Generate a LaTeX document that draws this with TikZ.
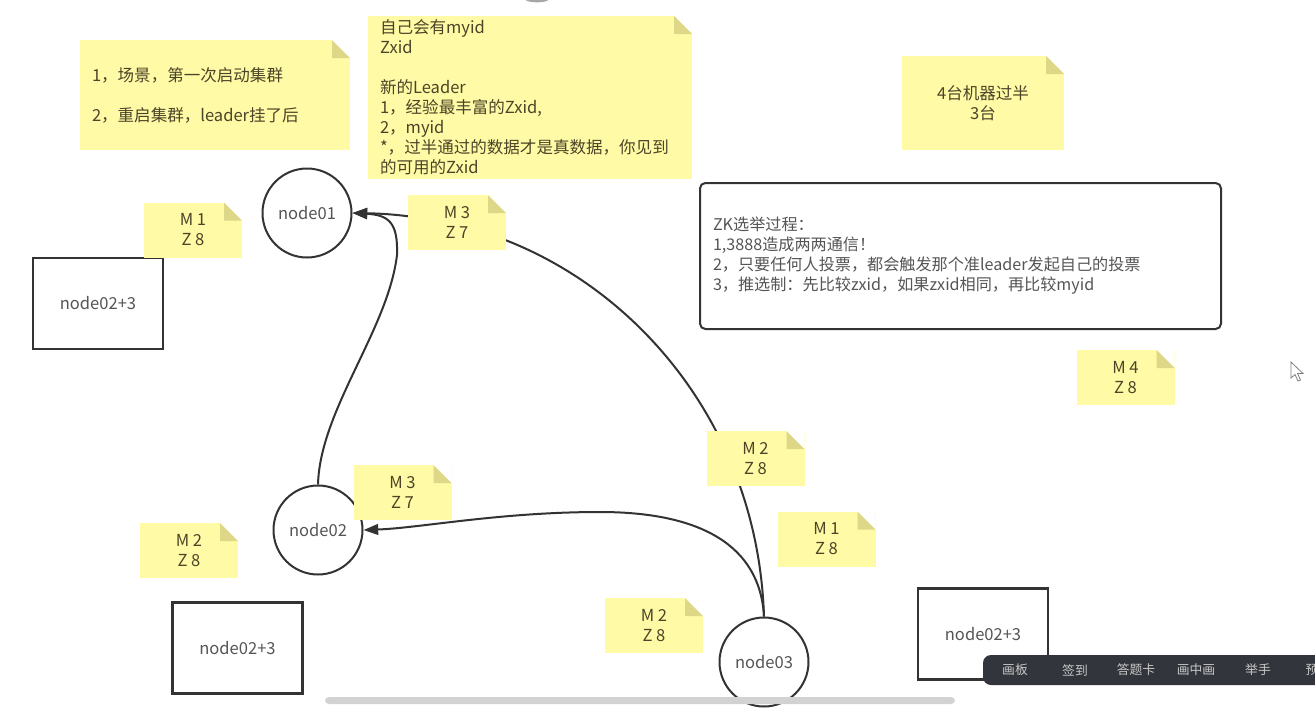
\documentclass[tikz,border=0pt]{standalone}
\usepackage{fontspec}
\setmainfont{Noto Sans CJK SC}
\usetikzlibrary{arrows.meta}

\definecolor{notey}{RGB}{255,250,165}
\definecolor{notefold}{RGB}{222,215,135}
\definecolor{notetext}{RGB}{75,68,40}
\definecolor{inkgray}{RGB}{51,51,51}
\definecolor{labelgray}{RGB}{85,85,85}
\definecolor{barbg}{RGB}{50,54,60}
\definecolor{bartext}{RGB}{200,200,200}

\begin{document}
\begin{tikzpicture}[
    x=0.75pt, y=-0.75pt,
    every node/.style={font=\fontsize{12.4}{15}\selectfont},
    note/.style={rectangle, fill=notey, text=notetext, inner sep=0pt,
        path picture={
            \fill[white] ([xshift=-13.5pt]path picture bounding box.north east)
                -- (path picture bounding box.north east)
                -- ([yshift=-13.5pt]path picture bounding box.north east) -- cycle;
            \fill[notefold] ([xshift=-13.5pt]path picture bounding box.north east)
                -- ([xshift=-13.5pt, yshift=-13.5pt]path picture bounding box.north east)
                -- ([yshift=-13.5pt]path picture bounding box.north east) -- cycle;
        }},
    mzk/.style={note, align=center, minimum width=73.5pt, minimum height=41.25pt},
    memo/.style={note, align=left, inner xsep=9pt},
    peer/.style={circle, draw=inkgray, line width=1.5pt, fill=white, minimum size=66.75pt, text=labelgray},
    host/.style={rectangle, draw=inkgray, line width=1.9pt, fill=white, minimum width=97.5pt, minimum height=68.25pt, text=labelgray},
    arrow/.style={-{Triangle[length=11pt, width=8pt]}, line width=1.5pt, draw=inkgray},
    tool/.style={text=bartext, font=\fontsize{9.6}{11}\selectfont}
]
\useasboundingbox (0,0) rectangle (1315,708);
\clip (0,0) rectangle (1315,708);
\fill[white] (0,0) rectangle (1315,708);

% Servers
\node[peer] (node01) at (307,213) {node01};
\node[peer] (node02) at (318,530) {node02};
\node[peer] (node03) at (764,662) {node03};

\node[host] (box1) at (98,303.5) {node02+3};
\node[host] (box2) at (237.5,648) {node02+3};
\node[host] (box3) at (983,634) {node02+3};

% Votes
\draw[arrow] (node03.north) .. controls (758,430) and (640,290) .. (500,238)
    .. controls (450,222) and (410,214) .. (node01.east);
\draw[arrow] (node02.north) .. controls (320,410) and (388,330) .. (397,255)
    .. controls (398,224) and (390,215) .. (node01.east);
\draw[arrow] (node03.north) .. controls (760,545) and (700,512) .. (600,512)
    .. controls (500,512) and (420,528) .. (node02.east);

% Notes
\node[memo, text width=184.5pt, minimum height=82.5pt] (scene) at (215,95)
    {1，场景，第一次启动集群\\[15pt]2，重启集群，leader挂了后};
\node[memo, text width=225pt, minimum height=122.25pt] (rule) at (530,97.5)
    {自己会有myid\\Zxid\\[15pt]新的Leader\\1，经验最丰富的Zxid,\\2，myid\\{}*，过半通过的数据才是真数据，你见到\\的可用的Zxid};
\node[note, align=center, minimum width=121.5pt, minimum height=70.5pt] (half) at (983,103)
    {4台机器过半\\3台};

\node[draw=inkgray, line width=1.5pt, rounded corners=4pt, fill=white,
    minimum width=390.75pt, minimum height=109.5pt, text width=371.25pt, inner xsep=9.75pt,
    align=left, text=labelgray, font=\fontsize{12.1}{15}\selectfont] (zk) at (960.5,256)
    {ZK选举过程：\\1,3888造成两两通信！\\2，只要任何人投票，都会触发那个准leader发起自己的投票\\3，推选制：先比较zxid，如果zxid相同，再比较myid};

% Ballots
\foreach \nm/\x/\y/\m/\z in {m1a/193/230/1/8, m3a/457/222.5/3/7, m3b/402.5/492.5/3/7,
    m2a/189/550.5/2/8, m2b/755.5/458.5/2/8, m1b/826.5/539/1/8, m2c/654/625.5/2/8, m4a/1125.5/377.5/4/8}
    \node[mzk] (\nm) at (\x,\y) {M \m\\Z \z};

% Screen chrome
\fill[gray!70] (537,-1) ellipse [x radius=9pt, y radius=2.5pt];
\fill[barbg, rounded corners=6pt] (983,655) rectangle (1340,685);
\foreach \x/\t in {1015/画板, 1075/签到, 1136/答题卡, 1196/画中画, 1258/举手, 1312/预}
    \node[tool] at (\x,670) {\t};
\fill[gray!35, rounded corners=3pt] (325,697) rectangle (955,704);
\draw[gray, fill=white, line width=0.6pt] (1291,362) -- (1291,378) -- (1295,374.5) -- (1298,381)
    -- (1300.5,380) -- (1297.5,373.5) -- (1303,373.5) -- cycle;

\end{tikzpicture}
\end{document}
